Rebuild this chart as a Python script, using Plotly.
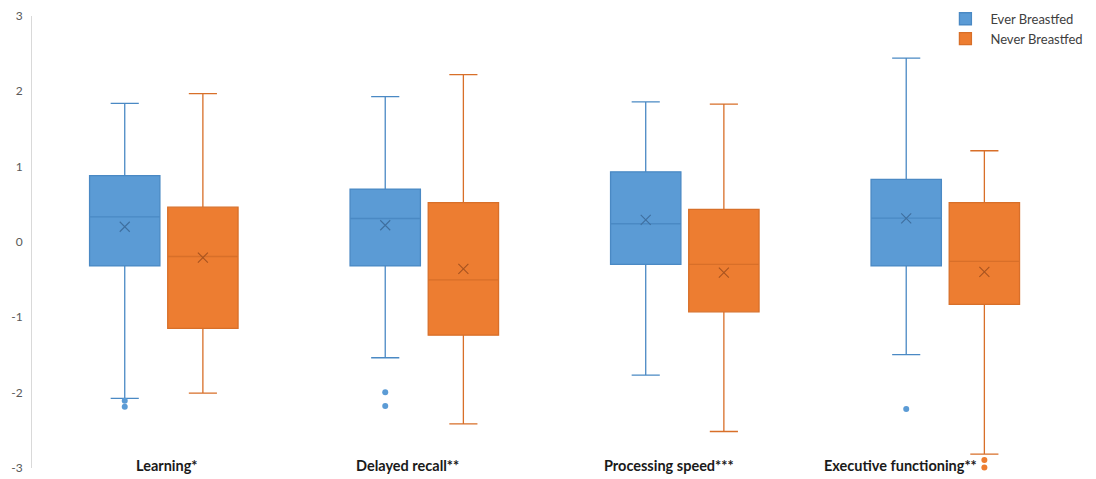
import plotly.graph_objects as go

categories = ["Learning*", "Delayed recall**", "Processing speed***", "Executive functioning**"]

ever_q1 = [-0.32, -0.32, -0.30, -0.32]
ever_median = [0.33, 0.31, 0.24, 0.315]
ever_q3 = [0.88, 0.70, 0.93, 0.83]
ever_lower = [-2.08, -1.54, -1.77, -1.50]
ever_upper = [1.84, 1.93, 1.86, 2.44]
ever_mean = [0.20, 0.22, 0.29, 0.31]
ever_outlier_cats = ["Learning*", "Learning*", "Delayed recall**", "Delayed recall**", "Executive functioning**"]
ever_outlier_vals = [-2.11, -2.19, -2.00, -2.18, -2.22]

never_q1 = [-1.15, -1.24, -0.93, -0.83]
never_median = [-0.195, -0.505, -0.30, -0.26]
never_q3 = [0.46, 0.52, 0.43, 0.52]
never_lower = [-2.01, -2.42, -2.52, -2.82]
never_upper = [1.97, 2.22, 1.83, 1.21]
never_mean = [-0.21, -0.36, -0.41, -0.40]
never_outlier_cats = ["Executive functioning**", "Executive functioning**"]
never_outlier_vals = [-2.90, -3.00]

y_ticks = [-3, -2, -1, 0, 1, 2, 3]

# style: horizontal nudge (px) of each category label, as in the original layout
label_nudge = [3, -17, -16, -45]

BLUE = "#5B9BD5"
BLUE_LINE = "#4A89C4"
BLUE_MEAN = "#3F6F9F"
ORANGE = "#ED7D31"
ORANGE_LINE = "#D86F29"
ORANGE_MEAN = "#A85420"

fig = go.Figure()

fig.add_trace(go.Box(
    name="Ever Breastfed", x=categories,
    q1=ever_q1, median=ever_median, q3=ever_q3,
    lowerfence=ever_lower, upperfence=ever_upper,
    fillcolor=BLUE, line=dict(color=BLUE_LINE, width=1.3),
    whiskerwidth=0.4, boxpoints=False, offsetgroup="ever",
))
fig.add_trace(go.Box(
    name="Never Breastfed", x=categories,
    q1=never_q1, median=never_median, q3=never_q3,
    lowerfence=never_lower, upperfence=never_upper,
    fillcolor=ORANGE, line=dict(color=ORANGE_LINE, width=1.3),
    whiskerwidth=0.4, boxpoints=False, offsetgroup="never",
))

fig.add_trace(go.Scatter(
    x=categories, y=ever_mean, mode="markers", showlegend=False,
    offsetgroup="ever", cliponaxis=False,
    marker=dict(symbol="x-thin", size=10, line=dict(color=BLUE_MEAN, width=1.1)),
))
fig.add_trace(go.Scatter(
    x=categories, y=never_mean, mode="markers", showlegend=False,
    offsetgroup="never", cliponaxis=False,
    marker=dict(symbol="x-thin", size=10, line=dict(color=ORANGE_MEAN, width=1.1)),
))
fig.add_trace(go.Scatter(
    x=ever_outlier_cats, y=ever_outlier_vals, mode="markers", showlegend=False,
    offsetgroup="ever", cliponaxis=False,
    marker=dict(symbol="circle", size=6, color=BLUE),
))
fig.add_trace(go.Scatter(
    x=never_outlier_cats, y=never_outlier_vals, mode="markers", showlegend=False,
    offsetgroup="never", cliponaxis=False,
    marker=dict(symbol="circle", size=6, color=ORANGE),
))

for cat, nudge in zip(categories, label_nudge):
    fig.add_annotation(
        x=cat, xref="x", y=0, yref="paper", yanchor="middle",
        text=cat, showarrow=False, xshift=nudge, yshift=3,
        font=dict(family="Lato, Noto Sans, sans-serif", size=14.5, color="#1a1a1a", weight="bold"),
    )

fig.update_layout(
    width=1088, height=471,
    margin=dict(l=24, r=9, t=8, b=11, autoexpand=False),
    paper_bgcolor="white", plot_bgcolor="white",
    font=dict(family="Lato, Noto Sans, sans-serif", size=12, color="#595959"),
    boxmode="group", boxgap=0.4, boxgroupgap=0.1,
    scattermode="group", scattergap=0.4,
    legend=dict(
        xref="container", yref="paper", x=0.857, y=1.027,
        xanchor="left", yanchor="top",
        font=dict(size=13, color="#404040"),
        bgcolor="rgba(0,0,0,0)", tracegroupgap=0, itemwidth=40,
    ),
    xaxis=dict(
        type="category", categoryorder="array", categoryarray=categories,
        range=[-0.506, 3.544], showline=False, showgrid=False, zeroline=False,
        ticks="", automargin=False, showticklabels=False,
    ),
    yaxis=dict(
        range=[-3.005, 3], tickvals=y_ticks, ticktext=[str(v) for v in y_ticks],
        showline=True, linecolor="#D9D9D9", linewidth=1,
        showgrid=False, zeroline=False, ticks="", automargin=False,
        ticklabelstandoff=6,
        tickfont=dict(size=12, color="#595959"),
    ),
)

fig.write_html("out.html")
